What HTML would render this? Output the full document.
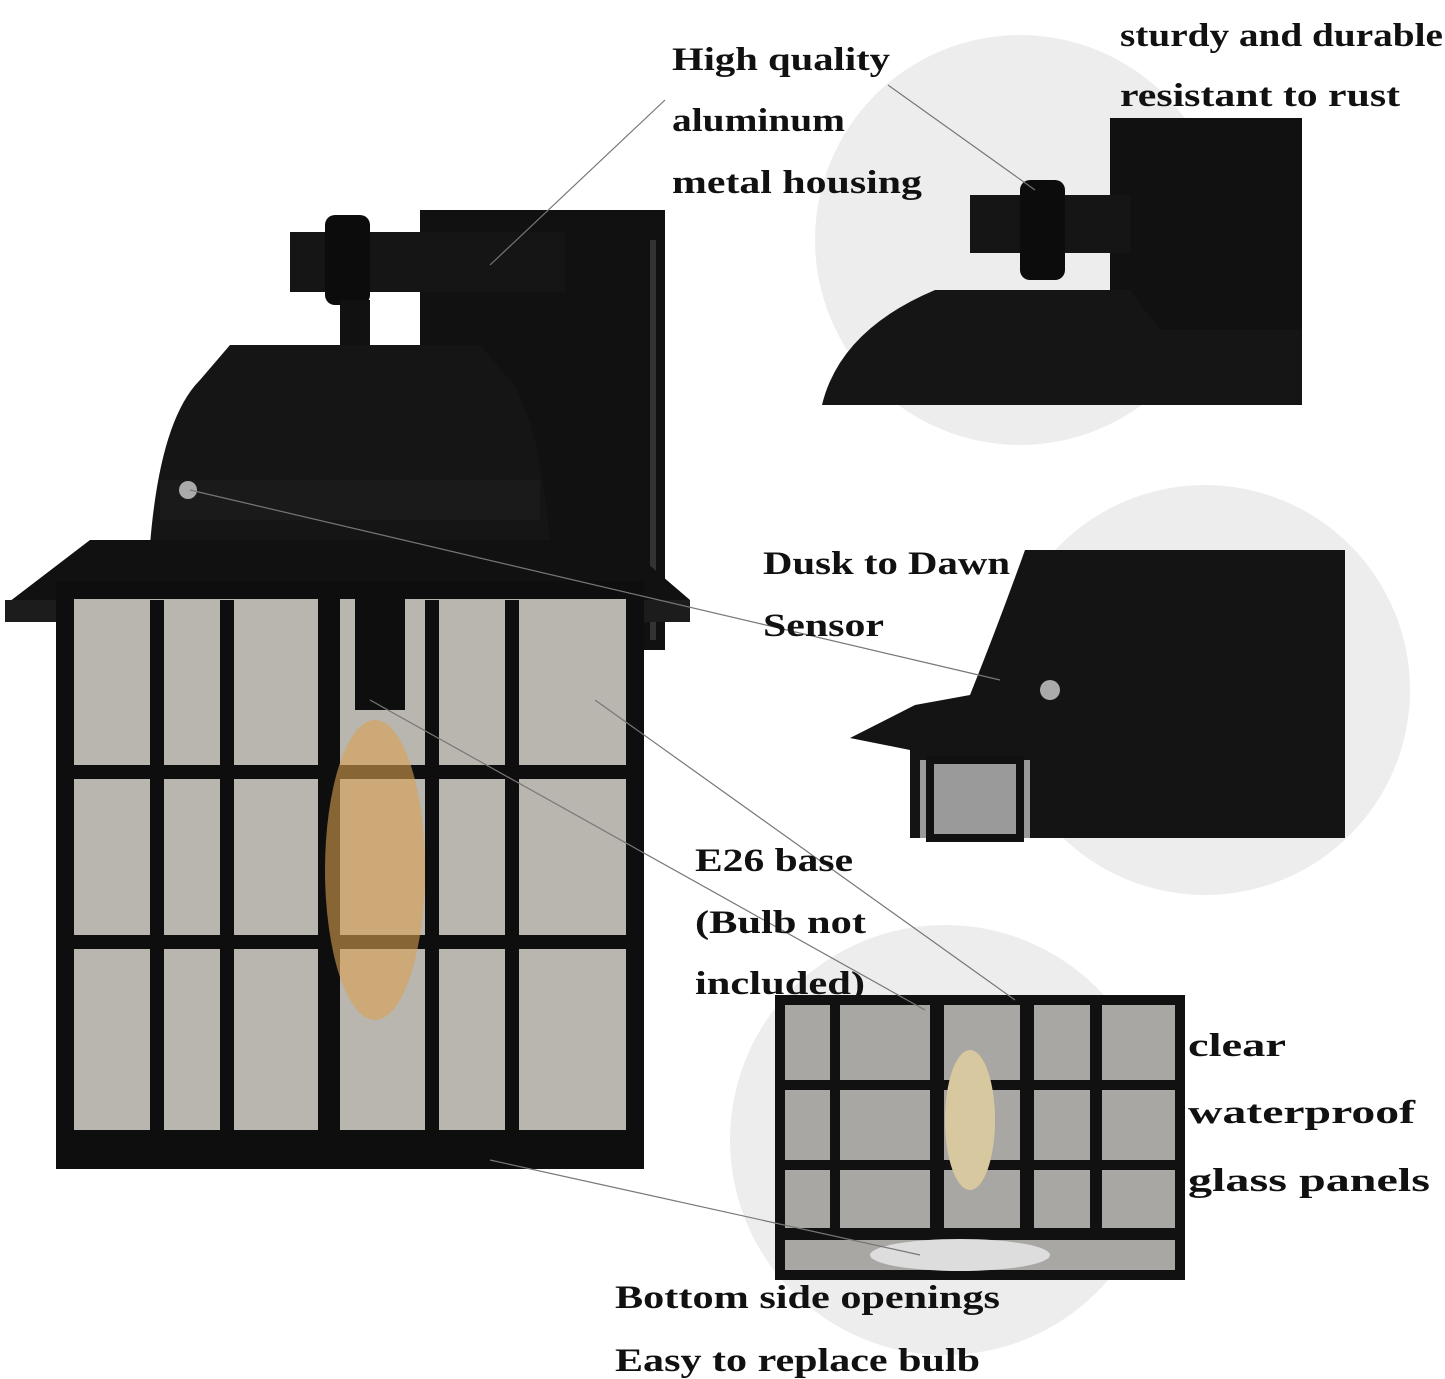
<!DOCTYPE html>
<html><head><meta charset="utf-8"><style>
html,body{margin:0;padding:0;background:#fff;}
svg{display:block}
text{font-family:"Liberation Serif",serif;font-weight:bold;font-size:33px;fill:#111}
</style></head><body>
<svg width="1445" height="1379" viewBox="0 0 1445 1379">
<rect width="1445" height="1379" fill="#fff"/>
<circle cx="1020" cy="240" r="205" fill="#ededed"/>
<circle cx="1205" cy="690" r="205" fill="#ededed"/>
<circle cx="945" cy="1140" r="215" fill="#ededed"/>

<rect x="420" y="210" width="245" height="440" fill="#111"/>
<rect x="650" y="240" width="6" height="400" fill="#333"/>
<rect x="290" y="232" width="275" height="60" fill="#151515"/>
<rect x="325" y="215" width="45" height="90" rx="10" fill="#0c0c0c"/>
<rect x="340" y="300" width="30" height="45" fill="#111"/>
<path d="M230 345 L480 345 L510 380 Q540 420 550 545 L150 545 Q160 420 200 380 Z" fill="#151515"/>
<rect x="160" y="480" width="380" height="40" fill="#1a1a1a"/>
<polygon points="90,540 620,540 690,600 5,605" fill="#111"/>
<rect x="5" y="600" width="685" height="22" fill="#1c1c1c"/>
<rect x="65" y="590" width="570" height="570" fill="#b9b6b0"/>
<rect x="65" y="590" width="570" height="570" fill="none" stroke="#0e0e0e" stroke-width="18"/>
<g fill="#0e0e0e">
<rect x="318" y="590" width="22" height="570"/>
<rect x="150" y="600" width="14" height="545"/>
<rect x="220" y="600" width="14" height="545"/>
<rect x="425" y="600" width="14" height="545"/>
<rect x="505" y="600" width="14" height="545"/>
<rect x="65" y="765" width="570" height="14"/>
<rect x="65" y="935" width="570" height="14"/>
<rect x="65" y="1130" width="570" height="35"/>
<rect x="355" y="590" width="50" height="120"/>
</g>
<ellipse cx="375" cy="870" rx="50" ry="150" fill="#d9a050" opacity="0.6"/>
<circle cx="188" cy="490" r="9" fill="#aaa"/>

<rect x="1110" y="118" width="192" height="287" fill="#111"/>
<rect x="970" y="195" width="160" height="58" fill="#151515"/>
<rect x="1020" y="180" width="45" height="100" rx="10" fill="#0c0c0c"/>
<path d="M935 290 L1130 290 L1160 330 L1302 330 L1302 405 L822 405 Q840 330 935 290 Z" fill="#151515"/>

<path d="M1025 550 L1345 550 L1345 838 L910 838 L910 750 L850 738 L915 705 L970 695 Q1000 620 1025 550 Z" fill="#141414"/>
<rect x="920" y="760" width="110" height="78" fill="#9a9a9a"/>
<rect x="930" y="760" width="90" height="78" fill="none" stroke="#111" stroke-width="8"/>
<circle cx="1050" cy="690" r="10" fill="#aaa"/>

<rect x="780" y="1000" width="400" height="275" fill="#a9a7a3"/>
<rect x="780" y="1000" width="400" height="275" fill="none" stroke="#111" stroke-width="10"/>
<g fill="#111">
<rect x="930" y="1000" width="14" height="275"/>
<rect x="1020" y="1000" width="14" height="230"/>
<rect x="1090" y="1000" width="12" height="230"/>
<rect x="830" y="1000" width="10" height="230"/>
<rect x="780" y="1080" width="400" height="10"/>
<rect x="780" y="1160" width="400" height="10"/>
<rect x="780" y="1228" width="400" height="12"/>
</g>
<ellipse cx="960" cy="1255" rx="90" ry="16" fill="#ddd"/>
<ellipse cx="970" cy="1120" rx="25" ry="70" fill="#d8c8a0"/>

<g stroke="#777" stroke-width="1.2" fill="none">
<line x1="490" y1="265" x2="665" y2="100"/>
<line x1="1035" y1="190" x2="888" y2="85"/>
<line x1="190" y1="490" x2="1000" y2="680"/>
<line x1="595" y1="700" x2="1015" y2="1000"/>
<line x1="370" y1="700" x2="925" y2="1010"/>
<line x1="490" y1="1160" x2="920" y2="1255"/>
</g>

<g>
<text x="672" y="70" textLength="218" lengthAdjust="spacingAndGlyphs">High quality</text>
<text x="672" y="131" textLength="173" lengthAdjust="spacingAndGlyphs">aluminum</text>
<text x="672" y="193" textLength="250" lengthAdjust="spacingAndGlyphs">metal housing</text>
<text x="1120" y="46" textLength="323" lengthAdjust="spacingAndGlyphs">sturdy and durable</text>
<text x="1120" y="106" textLength="280" lengthAdjust="spacingAndGlyphs">resistant to rust</text>
<text x="763" y="574" textLength="247" lengthAdjust="spacingAndGlyphs">Dusk to Dawn</text>
<text x="763" y="636" textLength="121" lengthAdjust="spacingAndGlyphs">Sensor</text>
<text x="695" y="871" textLength="158" lengthAdjust="spacingAndGlyphs">E26 base</text>
<text x="695" y="933" textLength="171" lengthAdjust="spacingAndGlyphs">(Bulb not</text>
<text x="695" y="994" textLength="170" lengthAdjust="spacingAndGlyphs">included)</text>
<text x="1188" y="1056" textLength="98" lengthAdjust="spacingAndGlyphs">clear</text>
<text x="1188" y="1123" textLength="227" lengthAdjust="spacingAndGlyphs">waterproof</text>
<text x="1188" y="1191" textLength="242" lengthAdjust="spacingAndGlyphs">glass panels</text>
<text x="615" y="1308" textLength="385" lengthAdjust="spacingAndGlyphs">Bottom side openings</text>
<text x="615" y="1371" textLength="365" lengthAdjust="spacingAndGlyphs">Easy to replace bulb</text>
</g>
</svg>
</body></html>
